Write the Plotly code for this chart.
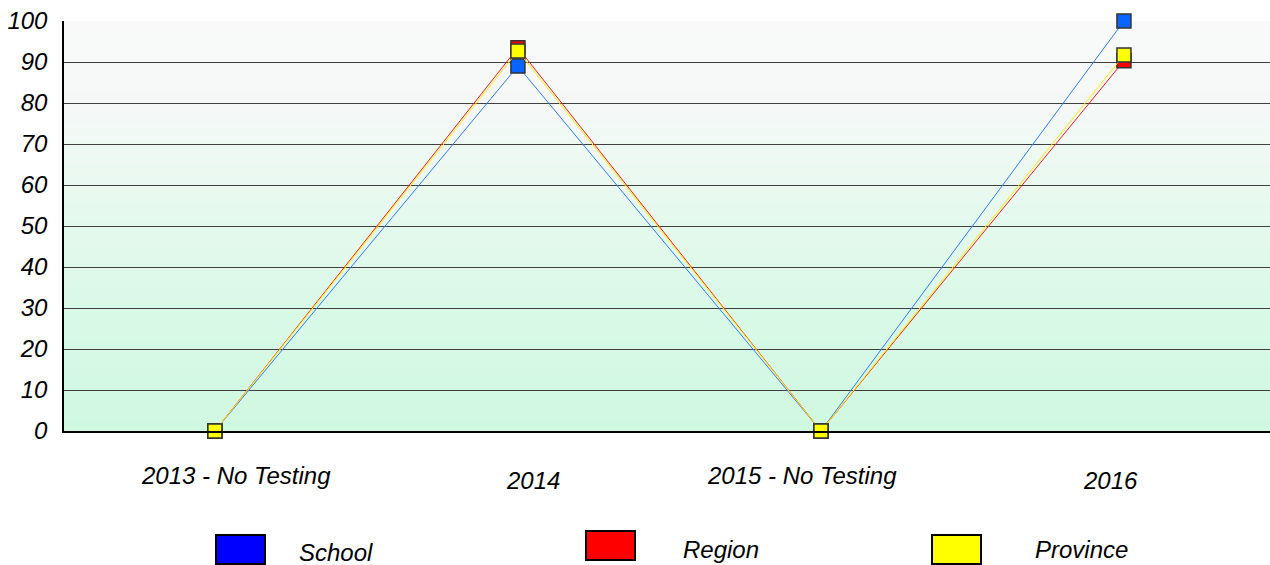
import plotly.graph_objects as go

categories = ["2013 - No Testing", "2014", "2015 - No Testing", "2016"]
school = [0, 89, 0, 100]
region = [0, 93.5, 0, 90.3]
province = [0, 92.7, 0, 91.7]
series_names = ["School", "Region", "Province"]
y_ticks = [0, 10, 20, 30, 40, 50, 60, 70, 80, 90, 100]

W, H = 1270, 565
ML, MR, MT, MB = 64, 0, 21, 134
PW, PH = W - ML - MR, H - MT - MB

def px_x(px):
    return (px - ML) / PW

def px_y(py):
    return (H - MB - py) / PH

FONT = "Arial, Liberation Sans, sans-serif"
line_colors = ["#2f7bff", "#ff1a1a", "#ffee00"]
marker_colors = ["#0a64ff", "#ff0000", "#ffff00"]
legend_colors = ["#0000ff", "#ff0000", "#ffff00"]

fig = go.Figure()
for name, vals, lc, mc in zip(series_names, [school, region, province], line_colors, marker_colors):
    fig.add_trace(go.Scatter(
        x=categories, y=vals, name=name, mode="lines+markers",
        line=dict(color=lc, width=1),
        marker=dict(symbol="square", size=14, color=mc, line=dict(color="#333333", width=1.5)),
        cliponaxis=False,
    ))

# background gradient
stops = [(100, (249, 249, 249)), (80, (246, 248, 248)), (70, (239, 249, 244)),
         (50, (228, 249, 237)), (30, (217, 249, 231)), (0, (208, 248, 224))]

def col_at(v):
    for (v1, c1), (v2, c2) in zip(stops[:-1], stops[1:]):
        if v2 <= v <= v1:
            t = (v1 - v) / (v1 - v2)
            return "rgb(%d,%d,%d)" % tuple(round(a + (b - a) * t) for a, b in zip(c1, c2))
    return "rgb(208,248,224)"

shapes = []
step = 1.0
v = 100.0
while v > 0:
    shapes.append(dict(type="rect", xref="paper", yref="y", x0=0, x1=1,
                       y0=max(v - step - 0.4, 0), y1=v,
                       fillcolor=col_at(v - step / 2), line=dict(width=0), layer="below"))
    v -= step

# legend boxes and labels
legend_boxes = [(216, 535), (586, 531), (932, 535)]
legend_labels = [(297, 552), (681, 549), (1033, 549)]
annotations = []
for (bx, by), (lx, ly), name, c in zip(legend_boxes, legend_labels, series_names, legend_colors):
    shapes.append(dict(type="rect", xref="paper", yref="paper",
                       x0=px_x(bx), x1=px_x(bx + 49), y0=px_y(by), y1=px_y(by + 29),
                       fillcolor=c, line=dict(color="#000000", width=2), layer="above"))
    annotations.append(dict(text=name, xref="paper", yref="paper", x=px_x(lx), y=px_y(ly),
                            xanchor="left", yanchor="middle", showarrow=False,
                            font=dict(family=FONT, size=24, color="#000000", style="italic")))

# x category labels (offset and staggered like the reference)
label_xshifts = [21, 15, -19, -13]
label_yshifts = [-44, -49, -44, -49]
for i, (cat, sx, sy) in enumerate(zip(categories, label_xshifts, label_yshifts)):
    annotations.append(dict(text=cat, xref="x", yref="paper", x=i, y=0, xshift=sx, yshift=sy,
                            xanchor="center", yanchor="middle", showarrow=False,
                            font=dict(family=FONT, size=24, color="#000000", style="italic")))

fig.update_layout(
    width=W, height=H,
    margin=dict(l=ML, r=MR, t=MT, b=MB, pad=0),
    paper_bgcolor="#ffffff", plot_bgcolor="rgba(0,0,0,0)",
    showlegend=False,
    shapes=shapes, annotations=annotations,
    font=dict(family=FONT, color="#000000"),
)
fig.update_xaxes(type="category", range=[-0.498, 3.482], showgrid=False, showticklabels=False,
                 showline=True, linecolor="#000000", linewidth=2, zeroline=False, ticks="")
fig.update_yaxes(range=[0, 100], tickvals=y_ticks, showgrid=True, gridcolor="#404040", gridwidth=1,
                 showline=True, linecolor="#000000", linewidth=1.5, zeroline=False,
                 ticks="", ticklabelstandoff=10,
                 tickfont=dict(family=FONT, size=24, color="#000000", style="italic"))

fig.write_html("out.html", config={"displayModeBar": False},
               post_script="document.body.style.margin='0';document.body.style.overflow='hidden';")
